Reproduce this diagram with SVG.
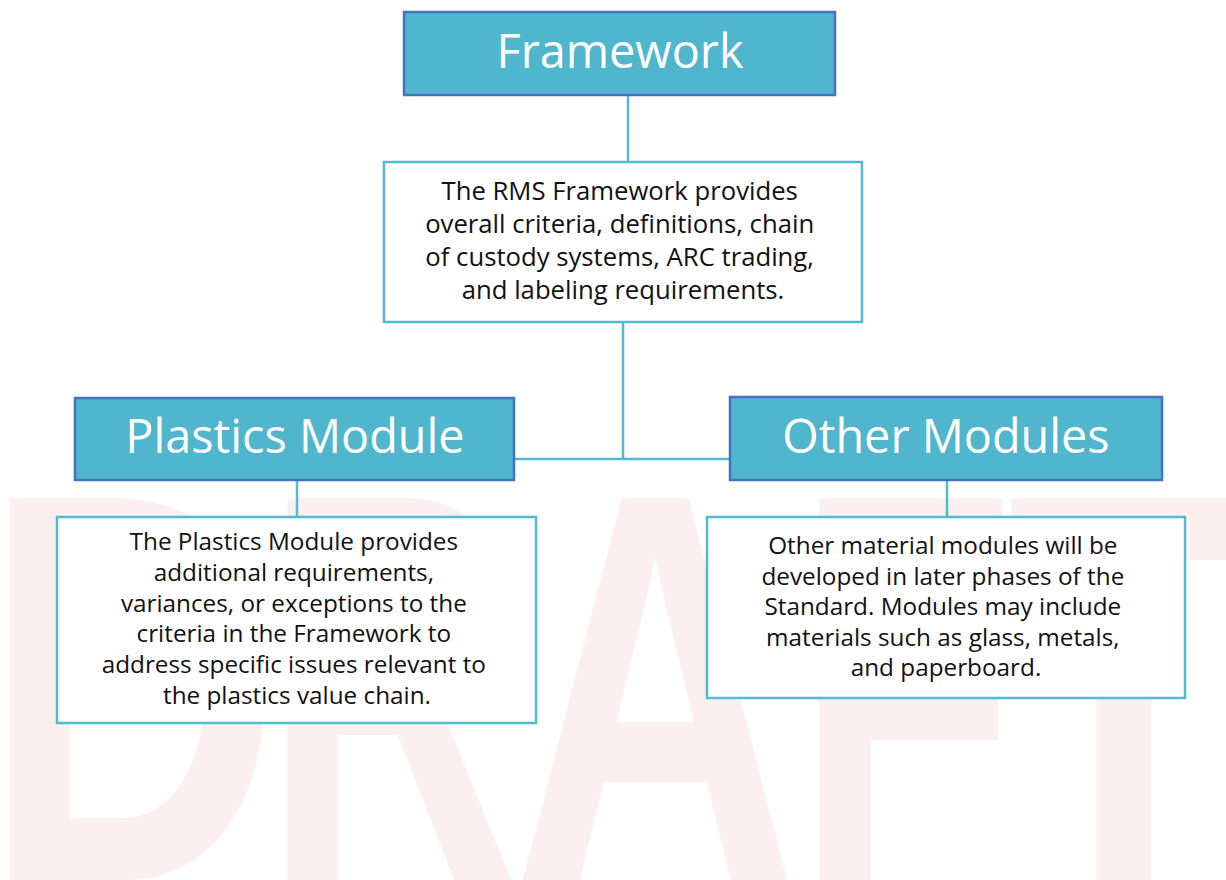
<svg xmlns="http://www.w3.org/2000/svg" width="1226" height="880" viewBox="0 0 1226 880">
  <style>
    .mark { font-family: "Liberation Sans", Arial, sans-serif; font-weight: bold; font-size: 555px; fill: #FBF0EF; }
    .head { fill: #50B6CE; stroke: #4472C4; stroke-width: 2.5; }
    .head-text { font-family: "Open Sans", Lato, sans-serif; font-size: 46.8px; fill: #FFFFFF; text-anchor: middle; }
    .desc { fill: #FFFFFF; stroke: #52B9D1; stroke-width: 2.5; }
    .desc-text { font-family: "Open Sans", Lato, sans-serif; font-size: 24.3px; fill: #111111; text-anchor: middle; }
    .desc-text.big { font-size: 25.7px; }
    .link { stroke: #52B9D1; stroke-width: 2.5; fill: none; }
  </style>

  <rect width="1226" height="880" fill="#FFFFFF"/>

  <!-- background watermark, one letter per element -->
  <g id="watermark">
    <text class="mark" transform="translate(-18,880) scale(0.75,1)">D</text>
    <text class="mark" transform="translate(264,880) scale(0.635,1)">R</text>
    <text class="mark" transform="translate(513,880) scale(0.71,1)">A</text>
    <text class="mark" transform="translate(795,880) scale(0.65,1)">F</text>
    <text class="mark" transform="translate(1007,880) scale(0.69,1)">T</text>
  </g>

  <!-- tree connectors -->
  <g id="connectors">
    <line class="link" x1="628" y1="95" x2="628" y2="162"/>
    <line class="link" x1="623" y1="322" x2="623" y2="459"/>
    <line class="link" x1="514" y1="459" x2="730" y2="459"/>
    <line class="link" x1="297" y1="480" x2="297" y2="517"/>
    <line class="link" x1="947" y1="480" x2="947" y2="517"/>
  </g>

  <g id="framework">
    <rect class="head" x="404" y="12" width="431" height="83"/>
    <text class="head-text" x="620" y="68">Framework</text>
  </g>

  <g id="framework-desc">
    <rect class="desc" x="384" y="162" width="478" height="160"/>
    <text class="desc-text big">
      <tspan x="623" y="200">The RMS Framework provides</tspan>
      <tspan x="623" y="233">overall criteria, definitions, chain</tspan>
      <tspan x="623" y="266">of custody systems, ARC trading,</tspan>
      <tspan x="623" y="299">and labeling requirements.</tspan>
    </text>
  </g>

  <g id="plastics-module">
    <rect class="head" x="75" y="398" width="439" height="82"/>
    <text class="head-text" x="295" y="453">Plastics Module</text>
  </g>

  <g id="other-modules">
    <rect class="head" x="730" y="397" width="432" height="83"/>
    <text class="head-text" x="946" y="453">Other Modules</text>
  </g>

  <g id="plastics-desc">
    <rect class="desc" x="57" y="517" width="479" height="206"/>
    <text class="desc-text">
      <tspan x="297" y="550">The Plastics Module provides</tspan>
      <tspan x="297" y="581">additional requirements,</tspan>
      <tspan x="297" y="612">variances, or exceptions to the</tspan>
      <tspan x="297" y="642">criteria in the Framework to</tspan>
      <tspan x="297" y="673">address specific issues relevant to</tspan>
      <tspan x="297" y="704">the plastics value chain.</tspan>
    </text>
  </g>

  <g id="other-desc">
    <rect class="desc" x="707" y="517" width="478" height="181"/>
    <text class="desc-text">
      <tspan x="946" y="554">Other material modules will be</tspan>
      <tspan x="946" y="585">developed in later phases of the</tspan>
      <tspan x="946" y="615">Standard. Modules may include</tspan>
      <tspan x="946" y="646">materials such as glass, metals,</tspan>
      <tspan x="946" y="676">and paperboard.</tspan>
    </text>
  </g>
</svg>
